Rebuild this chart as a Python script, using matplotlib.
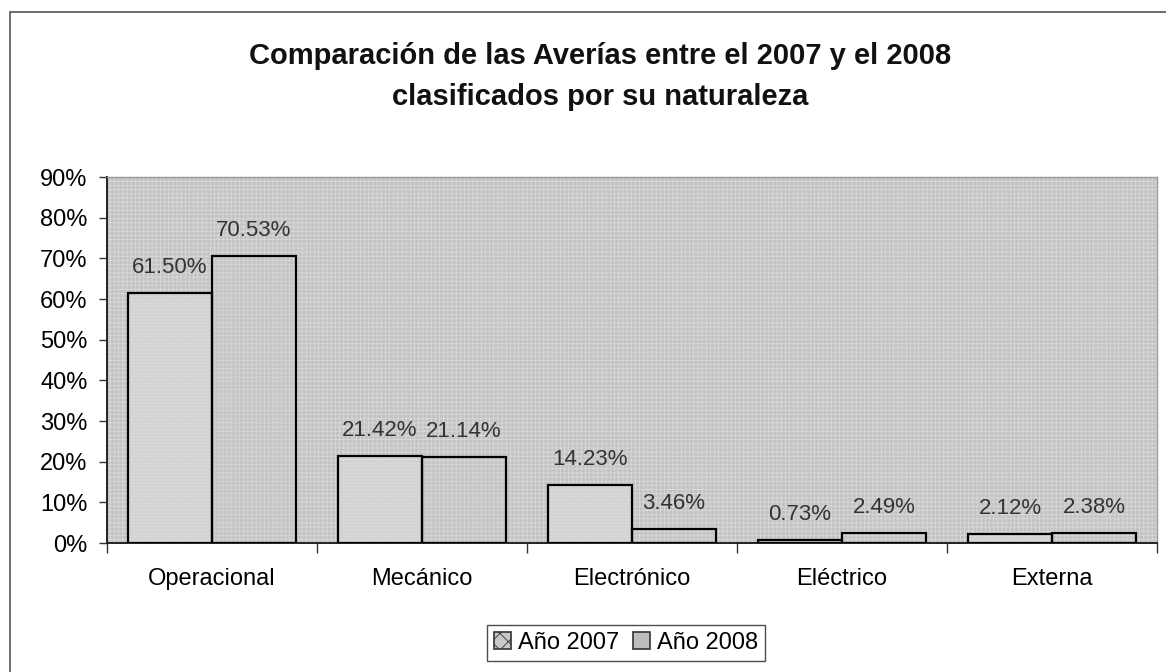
import numpy as np
import matplotlib
matplotlib.use("Agg")
import matplotlib.pyplot as plt
from matplotlib.patches import Patch, Rectangle

plt.rcParams['font.family'] = ['Liberation Sans', 'DejaVu Sans']
plt.rcParams['hatch.linewidth'] = 0.6

categories = ['Operacional', 'Mecánico', 'Electrónico', 'Eléctrico', 'Externa']
series_names = ['Año 2007', 'Año 2008']
values_2007 = [61.50, 21.42, 14.23, 0.73, 2.12]
values_2008 = [70.53, 21.14, 3.46, 2.49, 2.38]
yticks = [0, 10, 20, 30, 40, 50, 60, 70, 80, 90]

W, H = 1166, 672
fig = plt.figure(figsize=(W / 100, H / 100), dpi=100)
fig.patch.set_facecolor('white')

# outer chart frame (left and top edges visible)
fig.add_artist(Rectangle((10 / W, -0.1), 1.2, 1 - 12 / H + 0.1, transform=fig.transFigure,
                         fill=False, edgecolor='#555555', linewidth=1.2))

ax = fig.add_axes([107 / W, (H - 543) / H, 1050 / W, 366 / H])
ax.set_facecolor('#c3c3c3')
ax.add_patch(Rectangle((0, 0), 1, 1, transform=ax.transAxes, facecolor='none',
                       edgecolor='#d9d9d9', hatch='++++', linewidth=0, zorder=0))

x = np.arange(len(categories))
w = 0.4
fills = [('#d3d3d3', '.....', '#e0e0e0'), ('#c6c4c6', '++++', '#d6d6d6')]
for i, (vals, (fc, hatch, hc)) in enumerate(zip([values_2007, values_2008], fills)):
    xs = x - w / 2 + i * w
    ax.bar(xs, vals, w, color=fc, hatch=hatch, edgecolor=hc, linewidth=0, zorder=2)
    ax.bar(xs, vals, w, fill=False, edgecolor='black', linewidth=1.6, zorder=3)
    for xi, v in zip(xs, vals):
        ax.annotate(f'{v:.2f}%', (xi, v), xytext=(0, 11), textcoords='offset points',
                    ha='center', va='bottom', fontsize=16, color='#333333', zorder=4)

ax.set_xlim(-0.5, len(categories) - 0.5)
ax.set_ylim(0, 90)
ax.set_yticks(yticks)
ax.set_yticklabels([f'{t}%' for t in yticks], fontsize=17)
ax.set_xticks(x)
ax.set_xticklabels(categories, fontsize=17)
ax.set_xticks(np.arange(-0.5, len(categories), 1), minor=True)
ax.tick_params(axis='x', which='major', length=0, pad=18)
ax.tick_params(axis='x', which='minor', length=7, width=1, color='#333333', direction='out')
ax.tick_params(axis='y', length=6, width=1, color='#333333', direction='out', pad=8)

for side in ['left', 'bottom']:
    ax.spines[side].set_color('#222222')
    ax.spines[side].set_linewidth(1.4)
for side in ['top', 'right']:
    ax.spines[side].set_color('#9a9a9a')
    ax.spines[side].set_linewidth(1.0)

fig.text(600 / W, 1 - 56 / H, 'Comparación de las Averías entre el 2007 y el 2008',
         ha='center', va='center', fontsize=21, fontweight='bold', color='#111111')
fig.text(600 / W, 1 - 97 / H, 'clasificados por su naturaleza',
         ha='center', va='center', fontsize=21, fontweight='bold', color='#111111')

handles = [Patch(facecolor='#c8c8c8', edgecolor='#333333', hatch='xx', linewidth=1.2),
           Patch(facecolor='#bdbdbd', edgecolor='#333333', linewidth=1.2)]
leg = fig.legend(handles, series_names, loc='center', bbox_to_anchor=(626 / W, 1 - 643 / H),
                 ncol=2, fontsize=17, frameon=True, fancybox=False, handlelength=0.7,
                 handleheight=0.7, handletextpad=0.3, columnspacing=0.6, borderpad=0.3)
leg.get_frame().set_edgecolor('#222222')
leg.get_frame().set_linewidth(1.0)

fig.savefig('out.png', dpi=100)
